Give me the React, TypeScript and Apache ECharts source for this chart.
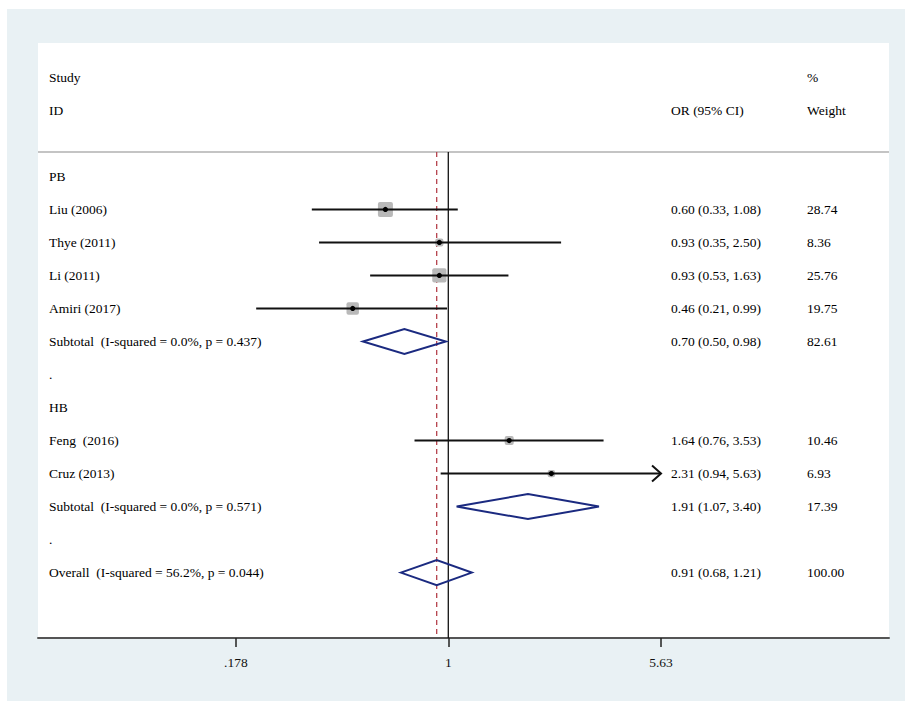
import React, { useEffect, useRef } from "react";
import * as echarts from "echarts";

// ---------- data ----------
const rowLabels = [
  "PB",
  "Liu (2006)",
  "Thye (2011)",
  "Li (2011)",
  "Amiri (2017)",
  "Subtotal  (I-squared = 0.0%, p = 0.437)",
  ".",
  "HB",
  "Feng  (2016)",
  "Cruz (2013)",
  "Subtotal  (I-squared = 0.0%, p = 0.571)",
  ".",
  "Overall  (I-squared = 56.2%, p = 0.044)",
];
const headerLeft = ["Study", "ID"];
const headerEstimate = "OR (95% CI)";
const headerWeight = ["%", "Weight"];

const studyRows = [1, 2, 3, 4, 8, 9];
const studyOR = [0.6, 0.93, 0.93, 0.46, 1.64, 2.31];
const studyLo = [0.33, 0.35, 0.53, 0.21, 0.76, 0.94];
const studyHi = [1.08, 2.5, 1.63, 0.99, 3.53, 5.63];
const studyWeight = [28.74, 8.36, 25.76, 19.75, 10.46, 6.93];
const studyArrow = [false, false, false, false, false, true];

const pooledRows = [5, 10, 12];
const pooledOR = [0.7, 1.91, 0.91];
const pooledLo = [0.5, 1.07, 0.68];
const pooledHi = [0.98, 3.4, 1.21];
const pooledWeight = [82.61, 17.39, 100.0];

const overallOR = 0.91;
const tickValues = [0.178, 1, 5.63];
const tickLabels = [".178", "1", "5.63"];

// ---------- styling ----------
const FONT = '"Liberation Serif", "Times New Roman", serif';
const FS = 13.5;
const NAVY = "#1b2a80";

const ln = (v: number) => Math.log(v);
const fmt = (v: number) => v.toFixed(2);

export default function App() {
  const ref = useRef<HTMLDivElement>(null);

  useEffect(() => {
    if (!ref.current) return;
    const chart = echarts.init(ref.current, undefined, { renderer: "svg" });

    type T = { row: number; col: number; text: string };
    const texts: T[] = [];
    texts.push({ row: -3, col: 0, text: headerLeft[0] });
    texts.push({ row: -2, col: 0, text: headerLeft[1] });
    texts.push({ row: -2, col: 1, text: headerEstimate });
    texts.push({ row: -3, col: 2, text: headerWeight[0] });
    texts.push({ row: -2, col: 2, text: headerWeight[1] });
    rowLabels.forEach((t, i) => texts.push({ row: i, col: 0, text: t }));
    studyRows.forEach((r, i) => {
      texts.push({ row: r, col: 1, text: `${fmt(studyOR[i])} (${fmt(studyLo[i])}, ${fmt(studyHi[i])})` });
      texts.push({ row: r, col: 2, text: fmt(studyWeight[i]) });
    });
    pooledRows.forEach((r, i) => {
      texts.push({ row: r, col: 1, text: `${fmt(pooledOR[i])} (${fmt(pooledLo[i])}, ${fmt(pooledHi[i])})` });
      texts.push({ row: r, col: 2, text: fmt(pooledWeight[i]) });
    });
    const colOffsets = [11, 633, 769];

    const headerRow = -0.74;

    const option: any = {
      animation: false,
      backgroundColor: "#e9f1f4",
      graphic: [
        { type: "rect", shape: { x: 0, y: 0, width: 7, height: 701 }, style: { fill: "#ffffff" } },
        { type: "rect", shape: { x: 0, y: 0, width: 905, height: 9 }, style: { fill: "#ffffff" } },
      ],
      grid: {
        left: 38,
        right: 16,
        top: 43,
        bottom: 63,
        show: true,
        backgroundColor: "#ffffff",
        borderWidth: 0,
      },
      xAxis: {
        type: "value",
        min: -3.333,
        max: 3.58,
        splitLine: { show: false },
        axisLine: { show: true, onZero: false, lineStyle: { color: "#555555", width: 2 } },
        axisTick: {
          show: true,
          length: 9,
          customValues: tickValues.map(ln),
          lineStyle: { color: "#222222", width: 1.5 },
        },
        axisLabel: {
          show: true,
          customValues: tickValues.map(ln),
          margin: 17,
          color: "#111111",
          fontFamily: FONT,
          fontSize: FS,
          formatter: (v: number) => {
            let best = 0;
            tickValues.forEach((t, i) => {
              if (Math.abs(ln(t) - v) < Math.abs(ln(tickValues[best]) - v)) best = i;
            });
            return tickLabels[best];
          },
        },
      },
      yAxis: {
        type: "value",
        min: -4.04,
        max: 13.98,
        inverse: true,
        show: false,
      },
      series: [
        {
          type: "custom",
          data: [[ln(overallOR), headerRow]],
          z: 1,
          renderItem: (params: any, api: any) => {
            const cs = params.coordSys;
            const yTop = api.coord([0, headerRow])[1];
            const yBot = cs.y + cs.height;
            const x1 = api.coord([0, 0])[0];
            const xd = api.coord([api.value(0), 0])[0];
            return {
              type: "group",
              children: [
                {
                  type: "line",
                  shape: { x1: cs.x, y1: yTop, x2: cs.x + cs.width, y2: yTop },
                  style: { stroke: "#b0b0b0", lineWidth: 1.5 },
                },
                {
                  type: "line",
                  shape: { x1: x1, y1: yTop, x2: x1, y2: yBot },
                  style: { stroke: "#111111", lineWidth: 1.3 },
                },
                {
                  type: "line",
                  shape: { x1: xd, y1: yTop, x2: xd, y2: yBot },
                  style: { stroke: "#b5424c", lineWidth: 1.3, lineDash: [5, 4] },
                },
              ],
            };
          },
        },
        {
          type: "custom",
          z: 3,
          data: studyRows.map((r, i) => [ln(studyOR[i]), r, ln(studyLo[i]), ln(studyHi[i]), studyWeight[i]]),
          renderItem: (params: any, api: any) => {
            const c = api.coord([api.value(0), api.value(1)]);
            const lo = api.coord([api.value(2), api.value(1)]);
            const hi = api.coord([api.value(3), api.value(1)]);
            const side = 2.8 * Math.sqrt(api.value(4));
            const children: any[] = [
              {
                type: "rect",
                shape: { x: c[0] - side / 2, y: c[1] - side / 2, width: side, height: side, r: 2 },
                style: { fill: "#b9b9b9" },
              },
              {
                type: "line",
                shape: { x1: lo[0], y1: c[1], x2: hi[0], y2: c[1] },
                style: { stroke: "#111111", lineWidth: 2 },
              },
              {
                type: "circle",
                shape: { cx: c[0], cy: c[1], r: 2.6 },
                style: { fill: "#000000" },
              },
            ];
            if (studyArrow[params.dataIndex]) {
              children.push({
                type: "polyline",
                shape: { points: [[hi[0] - 9, c[1] - 8], [hi[0], c[1]], [hi[0] - 9, c[1] + 8]] },
                style: { stroke: "#111111", lineWidth: 2, fill: "none" },
              });
            }
            return { type: "group", children };
          },
        },
        {
          type: "custom",
          z: 3,
          data: pooledRows.map((r, i) => [ln(pooledOR[i]), r, ln(pooledLo[i]), ln(pooledHi[i])]),
          renderItem: (params: any, api: any) => {
            const c = api.coord([api.value(0), api.value(1)]);
            const lo = api.coord([api.value(2), api.value(1)]);
            const hi = api.coord([api.value(3), api.value(1)]);
            const h = 12.5;
            return {
              type: "polygon",
              shape: { points: [[lo[0], c[1]], [c[0], c[1] - h], [hi[0], c[1]], [c[0], c[1] + h]] },
              style: { fill: "rgba(255,255,255,0)", stroke: NAVY, lineWidth: 2 },
            };
          },
        },
        {
          type: "custom",
          z: 4,
          data: texts.map((t) => [0, t.row]),
          renderItem: (params: any, api: any) => {
            const t = texts[params.dataIndex];
            const cs = params.coordSys;
            const y = api.coord([0, api.value(1)])[1];
            return {
              type: "text",
              x: cs.x + colOffsets[t.col],
              y: y,
              style: {
                text: t.text,
                fill: "#000000",
                fontFamily: FONT,
                fontSize: FS,
                align: "left",
                verticalAlign: "middle",
              },
            };
          },
        },
      ],
    };

    chart.setOption(option);
    return () => chart.dispose();
  }, []);

  return (
    <div
      ref={ref}
      style={{ position: "fixed", left: 0, top: 0, width: 905, height: 701 }}
    />
  );
}
